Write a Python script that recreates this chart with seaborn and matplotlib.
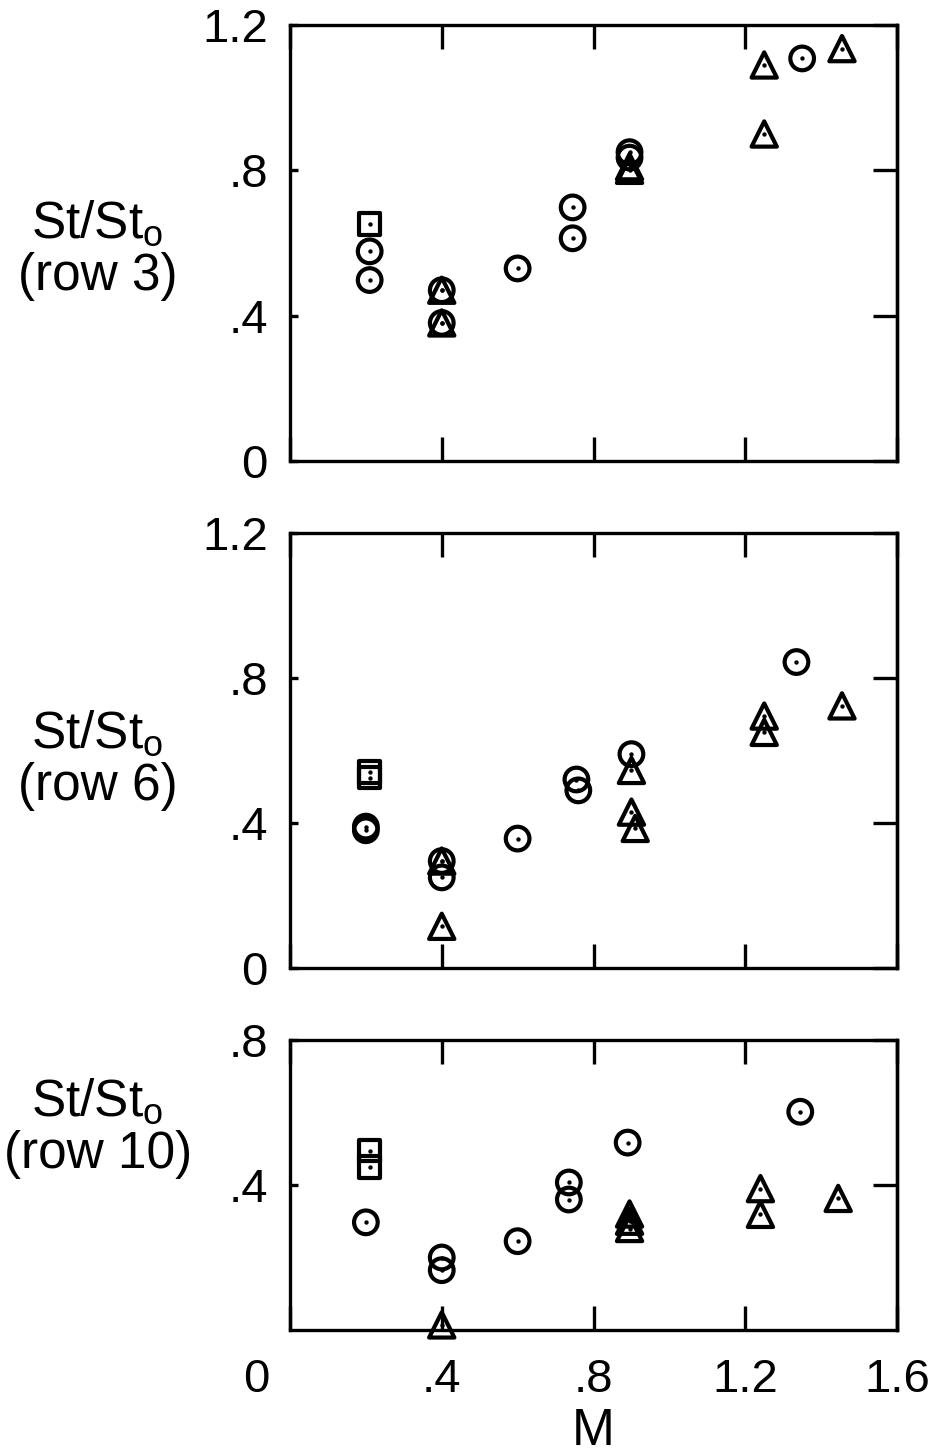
import numpy as np
import pandas as pd
import matplotlib
matplotlib.use("Agg")
import matplotlib.pyplot as plt
from matplotlib.transforms import ScaledTranslation
import seaborn as sns

# ---------------- data ----------------
# row 3
r3_circ_M = [0.21, 0.21, 0.40, 0.40, 0.60, 0.745, 0.745, 0.895, 0.895, 1.35]
r3_circ_S = [0.577, 0.498, 0.47, 0.38, 0.53, 0.698, 0.613, 0.85, 0.835, 1.108]
r3_tri_M = [0.40, 0.40, 0.895, 0.895, 1.25, 1.25, 1.455]
r3_tri_S = [0.47, 0.38, 0.81, 0.80, 0.90, 1.09, 1.135]
r3_sq_M = [0.21]
r3_sq_S = [0.652]

# row 6
r6_circ_M = [0.20, 0.20, 0.40, 0.40, 0.60, 0.755, 0.76, 0.90, 1.335]
r6_circ_S = [0.39, 0.38, 0.295, 0.25, 0.357, 0.52, 0.49, 0.59, 0.844]
r6_tri_M = [0.40, 0.40, 0.90, 0.90, 0.91, 1.25, 1.25, 1.455]
r6_tri_S = [0.295, 0.115, 0.545, 0.43, 0.385, 0.695, 0.65, 0.723]
r6_sq_M = [0.21, 0.21]
r6_sq_S = [0.54, 0.525]

# row 10
r10_circ_M = [0.20, 0.40, 0.40, 0.60, 0.735, 0.735, 0.89, 1.345]
r10_circ_S = [0.297, 0.20, 0.165, 0.245, 0.407, 0.36, 0.517, 0.602]
r10_tri_M = [0.40, 0.895, 0.895, 0.895, 1.24, 1.24, 1.445]
r10_tri_S = [0.014, 0.32, 0.30, 0.28, 0.39, 0.319, 0.363]
r10_sq_M = [0.21, 0.21]
r10_sq_S = [0.495, 0.45]

row_labels = ["St/St$_\\mathregular{o}$\n(row 3)",
              "St/St$_\\mathregular{o}$\n(row 6)",
              "St/St$_\\mathregular{o}$\n(row 10)"]
x_ticks = [0, 0.4, 0.8, 1.2, 1.6]
x_ticklabels = ["0", ".4", ".8", "1.2", "1.6"]
y_ticks_big = [0, 0.4, 0.8, 1.2]
y_ticklabels_big = ["0", ".4", ".8", "1.2"]
y_ticks_small = [0.4, 0.8]
y_ticklabels_small = [".4", ".8"]

def frame(cm, cs, tm, ts, sm, ss):
    return pd.DataFrame({
        "M": list(cm) + list(tm) + list(sm),
        "St": list(cs) + list(ts) + list(ss),
        "kind": ["circle"] * len(cm) + ["triangle"] * len(tm) + ["square"] * len(sm),
    })

panels = [
    frame(r3_circ_M, r3_circ_S, r3_tri_M, r3_tri_S, r3_sq_M, r3_sq_S),
    frame(r6_circ_M, r6_circ_S, r6_tri_M, r6_tri_S, r6_sq_M, r6_sq_S),
    frame(r10_circ_M, r10_circ_S, r10_tri_M, r10_tri_S, r10_sq_M, r10_sq_S),
]

# ---------------- style ----------------
sns.set_theme(style="white")
plt.rcParams["font.family"] = ["Liberation Sans", "DejaVu Sans"]
plt.rcParams["mathtext.fontset"] = "custom"
plt.rcParams["mathtext.rm"] = "Liberation Sans"
for k in ["text.color", "axes.labelcolor", "xtick.color", "ytick.color", "axes.edgecolor"]:
    plt.rcParams[k] = "black"
FS = 34
LFS = 37

fig = plt.figure(figsize=(9.33, 14.55), dpi=100)
W, H = 933, 1455
left, right = 290, 897
boxes = [(25, 461, 1.2), (533, 968, 1.2), (1040, 1330, 0.8)]
label_y = [0.484, 0.478, 0.697]

marker_map = {"circle": ("o", 290), "triangle": ("^", 330), "square": ("s", 240)}

axes = []
for i, ((top, bot, ymax), df) in enumerate(zip(boxes, panels)):
    ax = fig.add_axes([left / W, 1 - bot / H, (right - left) / W, (bot - top) / H])
    axes.append(ax)
    for kind, (mk, s) in marker_map.items():
        sub = df[df["kind"] == kind]
        sns.scatterplot(data=sub, x="M", y="St", marker=mk, s=s, facecolor="none",
                        edgecolor="black", linewidth=3.0, ax=ax, clip_on=False,
                        zorder=3, legend=False)
    sns.scatterplot(data=df, x="M", y="St", marker="o", s=10, color="black",
                    linewidth=0, ax=ax, clip_on=False, zorder=4, legend=False)
    ax.set_xlim(0, 1.6)
    ax.set_ylim(0, ymax)
    for sp in ax.spines.values():
        sp.set_linewidth(2.4)
        sp.set_color("black")
        sp.set_visible(True)
    ax.set_xticks(x_ticks)
    if i == 2:
        ax.set_xticklabels(x_ticklabels, fontsize=FS)
        ax.set_xlabel("M", fontsize=LFS, labelpad=4)
        ax.set_yticks(y_ticks_small)
        ax.set_yticklabels(y_ticklabels_small, fontsize=FS)
    else:
        ax.set_xticklabels([])
        ax.set_xlabel("")
        ax.set_yticks(y_ticks_big)
        ax.set_yticklabels(y_ticklabels_big, fontsize=FS)
    ax.tick_params(axis="x", which="major", direction="in", length=17, width=2.4,
                   top=True, bottom=True, pad=20, colors="black")
    ax.tick_params(axis="y", which="major", direction="in", length=6, width=2.4,
                   left=True, right=False, pad=16, colors="black")
    sec = ax.secondary_yaxis("right")
    sec.set_yticks(y_ticks_small if i == 2 else y_ticks_big)
    sec.tick_params(axis="y", direction="in", length=17, width=2.4, labelright=False)
    sec.spines["right"].set_linewidth(2.4)
    ax.set_ylabel(row_labels[i], rotation=0, fontsize=LFS, ha="center", va="center",
                  multialignment="center", linespacing=1.1)
    ax.yaxis.set_label_coords(-0.317, label_y[i])
    ax.grid(False)

# shift the bottom "0" label left, as in the original lettering
lab0 = axes[2].get_xticklabels()[0]
lab0.set_transform(lab0.get_transform() + ScaledTranslation(-0.34, 0, fig.dpi_scale_trans))

fig.savefig("out.png", dpi=100, facecolor="white")
